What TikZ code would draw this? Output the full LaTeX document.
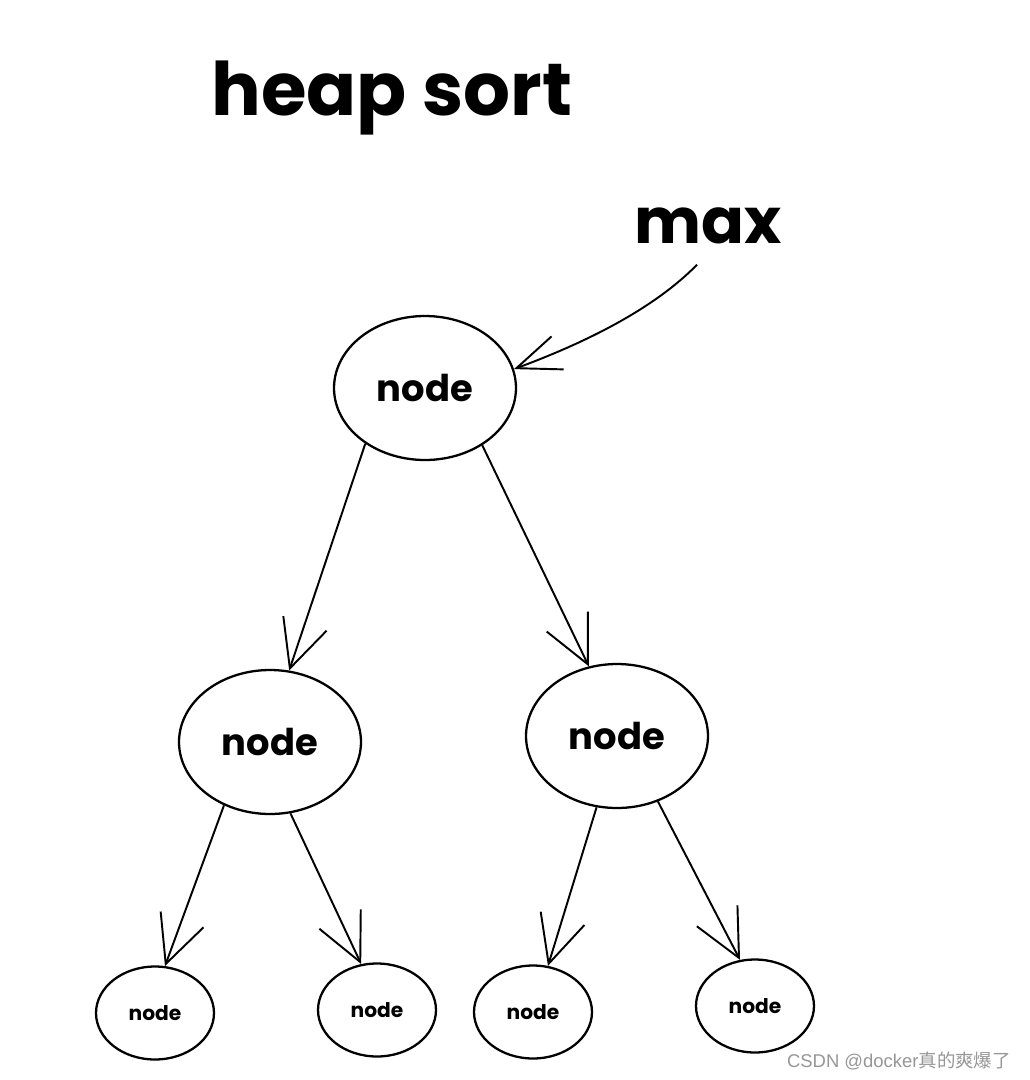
\documentclass[tikz,border=0pt]{standalone}
\usepackage{fontspec}
\setmainfont{Poppins}
\newfontfamily\cjk{Noto Sans CJK SC}
\newfontfamily\wmfont{Liberation Sans}
\usetikzlibrary{arrows.meta,shapes.geometric}
\definecolor{wmgray}{RGB}{150,150,150}

\begin{document}
\begin{tikzpicture}[x=0.02cm,y=-0.02cm,
        heapnode/.style={draw,ellipse,line width=1.3pt,inner sep=0pt},
        bignode/.style={heapnode,minimum width=3.64cm,minimum height=2.88cm,font=\fontsize{21}{25}\selectfont\bfseries},
        smallnode/.style={heapnode,minimum width=2.36cm,minimum height=1.86cm,font=\fontsize{11.5}{14}\selectfont\bfseries},
        link/.style={-{Straight Barb[length=27pt,width=26pt,line width=1.1pt]},line width=1.1pt}]
        \useasboundingbox (0,0) rectangle (1030,1080);
        % title and label
        \node[anchor=base,font=\fontsize{42}{46}\selectfont\bfseries] (title) at (392,115) {heap sort};
        \node[anchor=base,font=\fontsize{36}{40}\selectfont\bfseries] (max) at (708,243) {max};
        % heap
        \node[bignode] (root) at (425,388) {node};
        \node[bignode] (l) at (270,742) {node};
        \node[bignode] (r) at (617,736) {node};
        \node[smallnode] (ll) at (155,1013) {node};
        \node[smallnode] (lr) at (377,1010) {node};
        \node[smallnode] (rl) at (533,1012) {node};
        \node[smallnode] (rr) at (755,1006) {node};
        % arrows
        \draw[link,-{Straight Barb[length=25pt,width=20pt,line width=1.1pt]}] ([xshift=-0.22cm,yshift=-0.3cm]max.south) .. controls +(-47,48) and +(62,-23) .. (root.12);
        \foreach \a/\sa/\b/\eb in {root/223/l/75,root/315/r/112,l/234/ll/78,l/286/lr/109,r/254/rl/72,r/302/rr/108} {
            \draw[link] (\a.\sa) -- (\b.\eb);
        }
        % watermark
        \node[anchor=base east,text=wmgray,font=\fontsize{10.5}{12}\selectfont] (mark) at (1017,1067) {\wmfont CSDN @docker\cjk 真的爽爆了};
\end{tikzpicture}
\end{document}
